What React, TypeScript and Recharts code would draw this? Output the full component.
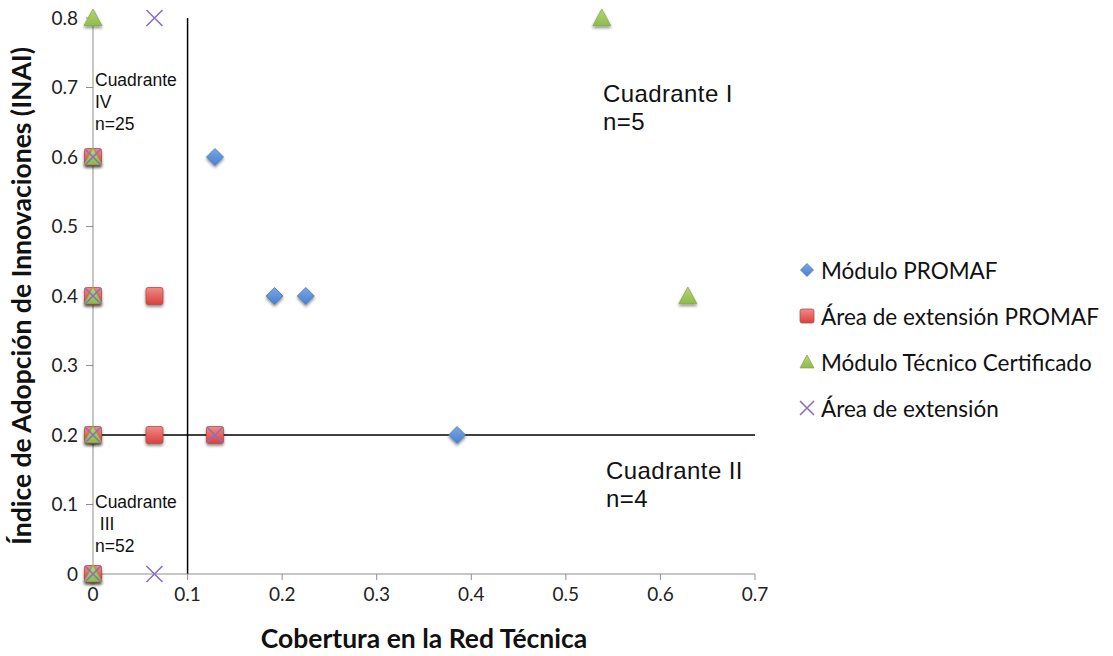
import { Legend, ReferenceLine, Scatter, ScatterChart, XAxis, YAxis } from 'recharts';

// valores
const moduloX = [0, 0, 0.129, 0.192, 0.225, 0.385];
const moduloY = [0.2, 0, 0.6, 0.4, 0.4, 0.2];
const areaPromafX = [0, 0, 0, 0, 0.065, 0.065, 0.129];
const areaPromafY = [0.6, 0.4, 0.2, 0, 0.4, 0.2, 0.2];
const tecnicoX = [0, 0, 0, 0, 0, 0.538, 0.629];
const tecnicoY = [0.8, 0.6, 0.4, 0.2, 0, 0.8, 0.4];
const areaX = [0, 0, 0, 0, 0.065, 0.065, 0.129];
const areaY = [0.6, 0.4, 0.2, 0, 0.8, 0, 0.2];

const xTicks = [0, 0.1, 0.2, 0.3, 0.4, 0.5, 0.6, 0.7];
const yTicks = [0, 0.1, 0.2, 0.3, 0.4, 0.5, 0.6, 0.7, 0.8];

const seriesNames = ['Módulo PROMAF', 'Área de extensión PROMAF', 'Módulo Técnico Certificado', 'Área de extensión'];

const toPoints = (xs: number[], ys: number[]) => xs.map((x, i) => ({ x, y: ys[i] }));

const FONT = 'Lato, "Open Sans", sans-serif';

function Diamond({ cx, cy, s = 8.5, shadow = true }: any) {
  return (
    <path
      d={`M${cx},${cy - s}L${cx + s},${cy}L${cx},${cy + s}L${cx - s},${cy}Z`}
      fill="url(#gBlue)"
      stroke="#4a78b8"
      strokeWidth={0.8}
      filter={shadow ? 'url(#mShadow)' : undefined}
    />
  );
}

function Square({ cx, cy, s = 8.5, shadow = true }: any) {
  return (
    <rect
      x={cx - s}
      y={cy - s}
      width={s * 2}
      height={s * 2}
      rx={2}
      fill="url(#gRed)"
      stroke="#b84a48"
      strokeWidth={0.8}
      filter={shadow ? 'url(#mShadow)' : undefined}
    />
  );
}

function Triangle({ cx, cy, s = 9, shadow = true }: any) {
  return (
    <path
      d={`M${cx},${cy - s}L${cx + s},${cy + s * 0.85}L${cx - s},${cy + s * 0.85}Z`}
      fill="url(#gGreen)"
      stroke="#86aa4a"
      strokeWidth={0.8}
      filter={shadow ? 'url(#mShadow)' : undefined}
    />
  );
}

function Cross({ cx, cy, s = 8 }: any) {
  return (
    <path
      d={`M${cx - s},${cy - s}L${cx + s},${cy + s}M${cx + s},${cy - s}L${cx - s},${cy + s}`}
      stroke="#8a70b8"
      strokeWidth={1.6}
      fill="none"
    />
  );
}

const icons = [Diamond, Square, Triangle, Cross];

function LegendBox() {
  return (
    <div style={{ fontFamily: FONT, fontSize: 22.5, color: '#111' }}>
      {seriesNames.map((name, i) => {
        const Icon = icons[i];
        return (
          <div key={name} style={{ display: 'flex', alignItems: 'center', height: 46 }}>
            <svg width={20} height={20} style={{ marginRight: 4 }}>
              <Icon cx={10} cy={10} s={i === 0 ? 6.5 : 7} shadow={false} />
            </svg>
            <span>{name}</span>
          </div>
        );
      })}
    </div>
  );
}

const quadText: React.CSSProperties = {
  position: 'absolute',
  fontFamily: '"Liberation Sans", Arial, sans-serif',
  color: '#111',
  whiteSpace: 'pre',
  pointerEvents: 'none',
};

export default function App() {
  return (
    <div style={{ position: 'relative', width: 1113, height: 656, background: '#fff' }}>
      <style>{'body{margin:0}'}</style>
      <svg width={0} height={0} style={{ position: 'absolute' }}>
        <defs>
          <filter id="mShadow" x="-50%" y="-50%" width="200%" height="200%">
            <feDropShadow dx={0} dy={2} stdDeviation={1.4} floodColor="#000" floodOpacity={0.45} />
          </filter>
          <linearGradient id="gBlue" x1="0" y1="0" x2="0" y2="1">
            <stop offset="0%" stopColor="#7aa6e6" />
            <stop offset="100%" stopColor="#4a80cf" />
          </linearGradient>
          <linearGradient id="gRed" x1="0" y1="0" x2="0" y2="1">
            <stop offset="0%" stopColor="#f08a86" />
            <stop offset="100%" stopColor="#d9413e" />
          </linearGradient>
          <linearGradient id="gGreen" x1="0" y1="0" x2="0" y2="1">
            <stop offset="0%" stopColor="#b3d779" />
            <stop offset="100%" stopColor="#8ebb4a" />
          </linearGradient>
        </defs>
      </svg>
      <ScatterChart width={1113} height={656} margin={{ top: 18, right: 358, bottom: 0, left: 0 }}>
        <XAxis
          type="number"
          dataKey="x"
          domain={[0, 0.7]}
          ticks={xTicks}
          interval={0}
          height={82}
          stroke="#8e8e8e"
          tickSize={6}
          tickMargin={8}
          tick={{ fill: '#222', fontSize: 19, fontFamily: FONT }}
          label={{
            content: () => (
              <text x={424} y={648} textAnchor="middle" fontFamily={FONT} fontWeight={700} fontSize={26.5} fill="#111">
                Cobertura en la Red Técnica
              </text>
            ),
          }}
        />
        <YAxis
          type="number"
          dataKey="y"
          domain={[0, 0.8]}
          ticks={yTicks}
          interval={0}
          width={93}
          stroke="#8e8e8e"
          tickSize={7}
          tickMargin={8}
          tick={{ fill: '#222', fontSize: 19, fontFamily: FONT }}
          label={{
            content: () => (
              <text
                x={31}
                y={296}
                transform="rotate(-90 31 296)"
                textAnchor="middle"
                fontFamily={FONT}
                fontWeight={700}
                fontSize={26.5}
                fill="#111"
              >
                Índice de Adopción de Innovaciones (INAI)
              </text>
            ),
          }}
        />
        <ReferenceLine x={0.1} stroke="#000" strokeWidth={1.5} />
        <ReferenceLine y={0.2} stroke="#000" strokeWidth={1.5} />
        <Scatter name={seriesNames[0]} data={toPoints(moduloX, moduloY)} shape={(p: any) => <Diamond cx={p.cx} cy={p.cy} />} isAnimationActive={false} />
        <Scatter name={seriesNames[1]} data={toPoints(areaPromafX, areaPromafY)} shape={(p: any) => <Square cx={p.cx} cy={p.cy} />} isAnimationActive={false} />
        <Scatter name={seriesNames[2]} data={toPoints(tecnicoX, tecnicoY)} shape={(p: any) => <Triangle cx={p.cx} cy={p.cy} />} isAnimationActive={false} />
        <Scatter name={seriesNames[3]} data={toPoints(areaX, areaY)} shape={(p: any) => <Cross cx={p.cx} cy={p.cy} />} isAnimationActive={false} />
        <Legend
          layout="vertical"
          align="center"
          verticalAlign="middle"
          content={() => <LegendBox />}
          wrapperStyle={{ left: 797, top: 247, width: 316 }}
        />
      </ScatterChart>
      <div style={{ ...quadText, left: 603, top: 80, fontSize: 24, letterSpacing: 0.4, lineHeight: '28px' }}>{'Cuadrante I\nn=5'}</div>
      <div style={{ ...quadText, left: 606, top: 457, fontSize: 24, letterSpacing: 0.4, lineHeight: '28px' }}>{'Cuadrante II\nn=4'}</div>
      <div style={{ ...quadText, left: 95, top: 69, fontSize: 17.5, lineHeight: '22px' }}>{'Cuadrante\nIV\nn=25'}</div>
      <div style={{ ...quadText, left: 95, top: 491, fontSize: 17.5, lineHeight: '22px' }}>{'Cuadrante\n III\nn=52'}</div>
    </div>
  );
}
